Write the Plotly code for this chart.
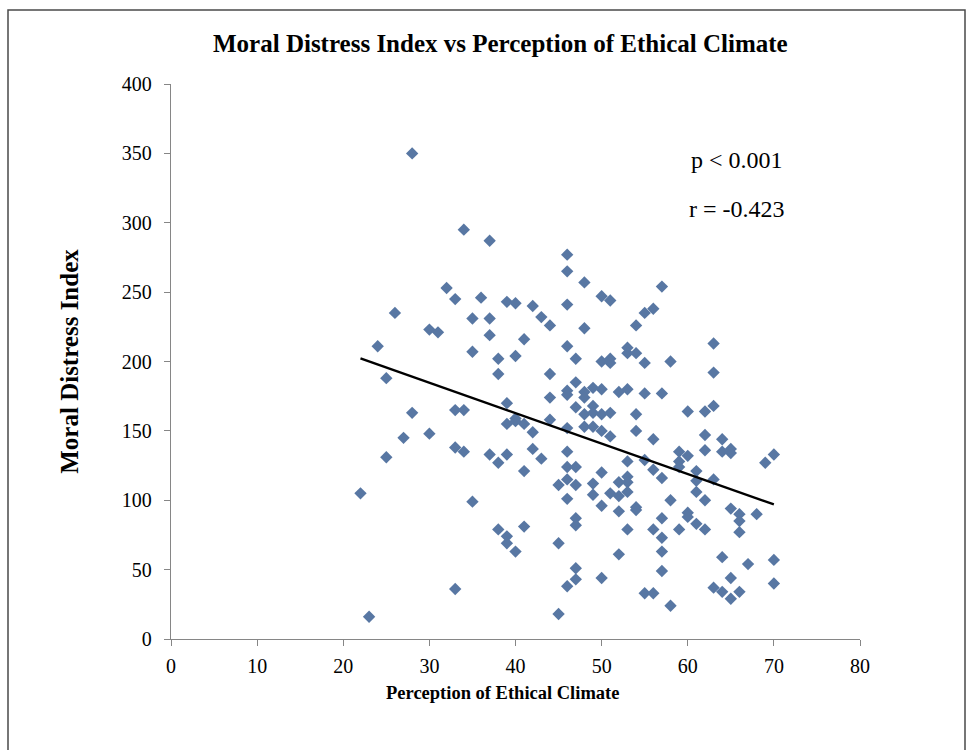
import plotly.graph_objects as go

# Data
ethical_climate = (
    [22, 23, 24, 25, 25, 26, 27, 28, 28, 30, 30, 31, 32]
    + [33] * 4 + [34] * 3 + [35] * 3 + [36] + [37] * 4 + [38] * 4 + [39] * 6
    + [40] * 5 + [41] * 4 + [42] * 3 + [43] * 2 + [44] * 4 + [45] * 3
    + [46] * 12 + [47] * 9 + [48] * 6 + [49] * 6 + [50] * 8 + [51] * 6
    + [52] * 5 + [53] * 8 + [54] * 6 + [55] * 5 + [56] * 5 + [57] * 7
    + [58] * 3 + [59] * 4 + [60] * 4 + [61] * 4 + [62] * 5 + [63] * 5
    + [64] * 4 + [65] * 5 + [66] * 4 + [67, 68, 69] + [70] * 3
)
moral_distress = [
    105, 16, 211, 188, 131, 235, 145, 350, 163, 223, 148, 221, 253,
    245, 165, 138, 36,
    295, 165, 135,
    231, 207, 99,
    246,
    287, 231, 219, 133,
    202, 191, 127, 79,
    243, 170, 155, 133, 74, 69,
    242, 204, 159, 157, 63,
    216, 155, 121, 81,
    240, 149, 137,
    232, 130,
    226, 191, 174, 158,
    111, 69, 18,
    277, 265, 241, 211, 179, 176, 152, 135, 124, 115, 101, 38,
    202, 185, 167, 124, 111, 87, 82, 51, 43,
    257, 224, 178, 174, 162, 153,
    181, 168, 163, 153, 112, 104,
    247, 200, 180, 162, 150, 120, 96, 44,
    244, 202, 199, 163, 146, 105,
    178, 113, 103, 92, 61,
    210, 206, 180, 128, 117, 113, 106, 79,
    226, 206, 162, 150, 95, 93,
    235, 199, 177, 129, 33,
    238, 144, 122, 79, 33,
    254, 177, 116, 87, 73, 63, 49,
    200, 100, 24,
    135, 128, 124, 79,
    164, 132, 91, 88,
    121, 114, 106, 83,
    164, 147, 136, 100, 79,
    213, 192, 168, 115, 37,
    144, 135, 59, 34,
    137, 134, 94, 44, 29,
    90, 85, 77, 34,
    54, 90, 127,
    133, 57, 40,
]
trend_x = [22, 70]
trend_y = [202.3, 97.0]
x_ticks = [0, 10, 20, 30, 40, 50, 60, 70, 80]
y_ticks = [0, 50, 100, 150, 200, 250, 300, 350, 400]
stats_text = ["p < 0.001", "r = -0.423"]

SERIF = "Liberation Serif, Times New Roman, serif"

fig = go.Figure()
fig.add_trace(go.Scatter(
    x=ethical_climate, y=moral_distress, mode="markers",
    marker=dict(symbol="diamond", size=9.5, color="#5877A3", line=dict(width=0)),
    showlegend=False, hoverinfo="x+y",
))
fig.add_trace(go.Scatter(
    x=trend_x, y=trend_y, mode="lines",
    line=dict(color="black", width=2.4), showlegend=False, hoverinfo="skip",
))

axis_common = dict(
    showgrid=False, zeroline=False, showline=True, linecolor="#868686",
    linewidth=1.3, ticks="outside", ticklen=6, tickcolor="#868686",
    tickfont=dict(family=SERIF, size=20, color="black"),
)
fig.update_xaxes(range=[0, 80], tickvals=x_ticks, ticklabelstandoff=3, **axis_common)
fig.update_yaxes(range=[0, 400], tickvals=y_ticks, ticklabelstandoff=8, **axis_common,
                 title=dict(text="<b>Moral Distress Index</b>",
                            font=dict(family=SERIF, size=25, color="black"),
                            standoff=36))

fig.update_layout(
    width=977, height=750,
    margin=dict(l=171, r=117, t=84, b=111),
    paper_bgcolor="white", plot_bgcolor="white",
    annotations=[
        dict(text="<b>Moral Distress Index vs Perception of Ethical Climate</b>",
             xref="paper", yref="paper", x=(500 - 171) / 689, y=(639 - 43) / 555,
             xanchor="center", yanchor="middle", showarrow=False,
             font=dict(family=SERIF, size=25, color="black")),
        dict(text="<b>Perception of Ethical Climate</b>",
             xref="paper", yref="paper", x=(502 - 171) / 689, y=(639 - 693) / 555,
             xanchor="center", yanchor="middle", showarrow=False,
             font=dict(family=SERIF, size=18.5, color="black")),
        dict(text=stats_text[0], xref="x", yref="y", x=60.2, y=345,
             xanchor="left", yanchor="middle", showarrow=False,
             font=dict(family=SERIF, size=24, color="black")),
        dict(text=stats_text[1], xref="x", yref="y", x=59.9, y=310,
             xanchor="left", yanchor="middle", showarrow=False,
             font=dict(family=SERIF, size=24, color="black")),
    ],
    shapes=[dict(type="rect", xref="paper", yref="paper",
                 x0=(8 - 171) / 689, x1=(965 - 171) / 689,
                 y0=(639 - 760) / 555, y1=(639 - 10) / 555,
                 line=dict(color="#4a4a4a", width=1.5), layer="below")],
)

fig.write_html("out.html")
